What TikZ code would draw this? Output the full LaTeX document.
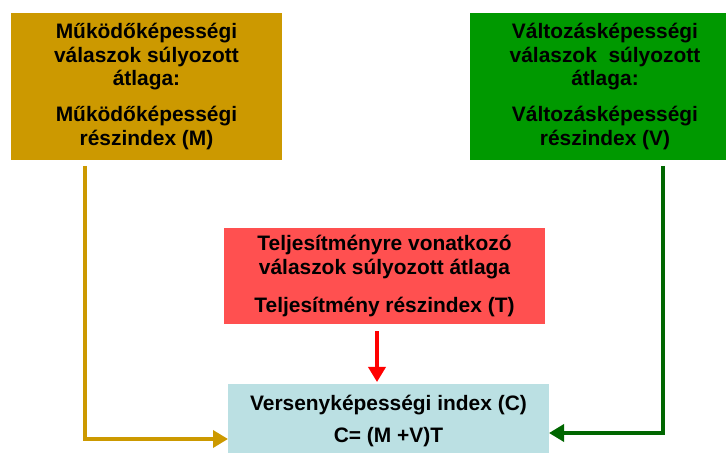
\documentclass[tikz,border=0pt]{standalone}
\usepackage{fontspec}
\setmainfont{Liberation Sans}
\usetikzlibrary{arrows.meta}
\definecolor{mbox}{HTML}{CC9900}
\definecolor{vbox}{HTML}{009900}
\definecolor{tbox}{HTML}{FF5050}
\definecolor{cbox}{HTML}{BBE0E3}
\definecolor{marrow}{HTML}{CC9900}
\definecolor{varrow}{HTML}{006600}
\definecolor{tarrow}{HTML}{FF0000}
\tikzset{
  boxnode/.style={inner sep=0pt, outer sep=0pt, align=center,
    font=\bfseries\fontsize{21}{24}\selectfont},
  conn/.style={line width=3.5bp, -{Triangle[length=15bp,width=17bp]}},
}
\begin{document}
\begin{tikzpicture}[x=1bp,y=-1bp]
\useasboundingbox (0,0) rectangle (726,453);
\node[boxnode, fill=mbox, minimum width=271bp, minimum height=147bp] (M) at (146.5,86.5)
  {Működőképességi\\válaszok súlyozott\\átlaga:\\[12bp]Működőképességi\\részindex (M)};
\node[boxnode, fill=vbox, minimum width=270bp, minimum height=147bp] (V) at (605,86.5)
  {Változásképességi\\válaszok\ \ súlyozott\\átlaga:\\[12bp]Változásképességi\\részindex (V)};
\node[boxnode, fill=tbox, minimum width=321bp, minimum height=96bp] (T) at (384.5,276)
  {Teljesítményre vonatkozó\\válaszok súlyozott átlaga\\[14bp]Teljesítmény részindex (T)};
\node[boxnode, fill=cbox, minimum width=321bp, minimum height=74bp] (C) at (388.5,421)
  {Versenyképességi index (C)\\[8bp]C= (M +V)T};
\draw[conn, marrow] ([xshift=74bp,yshift=-6bp]M.south west) |- ([yshift=-18bp]C.west);
\draw[conn, varrow] ([xshift=193bp,yshift=-6bp]V.south west) |- ([yshift=-12bp]C.east);
\draw[conn, tarrow] ([xshift=-7.5bp,yshift=-7bp]T.south) -- ([xshift=-7.5bp,yshift=2bp]T.south |- C.north);
\end{tikzpicture}
\end{document}
